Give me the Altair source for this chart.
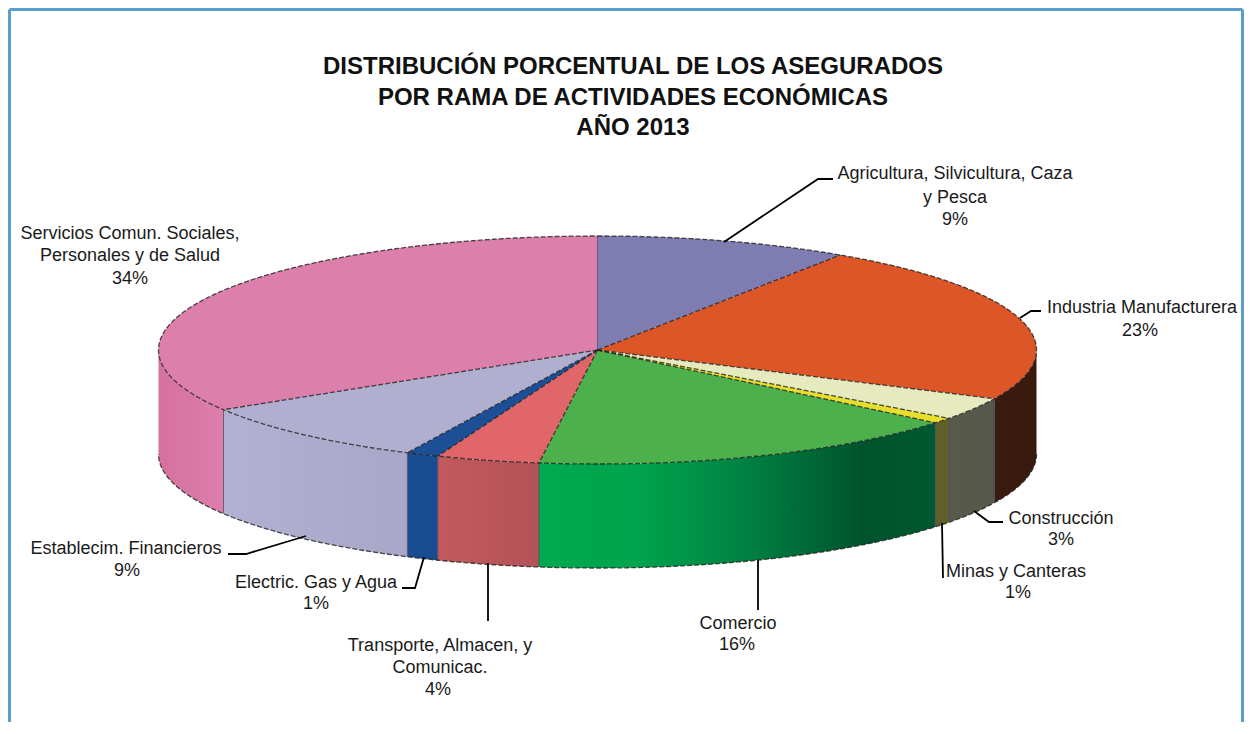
import math
import altair as alt

# --- data ---
categories = ["Agricultura", "Industria", "Construccion", "Minas", "Comercio",
              "Transporte", "Electric", "Establecim", "Servicios"]
shares = [9.33, 22.7, 3.2, 0.8, 16.1, 3.8, 1.2, 9.1, 33.77]
top_colors = ["#7e7cb0", "#dc5627", "#e6ebbf", "#e8df2c", "#4cb04c",
              "#e0666a", "#1d4f96", "#b0afd0", "#dd7fab"]
wall_stops = [
    ["#7e7cb0"],
    ["#3a1b10", "#38190e"],
    ["#585b4a", "#54574a"],
    ["#5f5f2a"],
    ["#00a94f", "#00a44d", "#008443", "#00532c", "#00592f"],
    ["#c25a5e", "#b35257"],
    ["#1a4c92"],
    ["#b2b1d2", "#a9a6c8"],
    ["#d5709e", "#dd7fab"],
]
label_text = ["Agricultura, Silvicultura, Caza", "y Pesca", "9%",
              "Industria Manufacturera", "23%",
              "Construcción", "3%",
              "Minas y Canteras", "1%",
              "Comercio", "16%",
              "Transporte, Almacen, y", "Comunicac.", "4%",
              "Electric. Gas y Agua", "1%",
              "Establecim. Financieros", "9%",
              "Servicios Comun. Sociales,", "Personales y de Salud", "34%"]
label_x = [955, 955, 955, 1142, 1140, 1061, 1061, 1016, 1018, 738, 737,
           440, 440, 438, 316, 316, 126, 127, 130, 130, 130]
label_y = [174, 198, 220, 308, 331, 519, 540, 572, 593, 624, 645,
           646, 668, 690, 583, 604, 549, 571, 234, 256, 279]
leaders = [
    [(724, 242), (818, 179), (833, 179)],
    [(1020, 318), (1031, 311), (1041, 311)],
    [(974, 511), (989, 522), (1003, 522)],
    [(942, 523), (943, 578)],
    [(758, 560), (758, 610)],
    [(488, 563), (488, 621)],
    [(424, 557), (415, 588), (402, 588)],
    [(306, 536), (246, 554), (228, 554)],
]
title_lines = ["DISTRIBUCIÓN PORCENTUAL DE LOS ASEGURADOS",
               "POR RAMA DE ACTIVIDADES ECONÓMICAS",
               "AÑO 2013"]

# --- pie geometry ---
CX, CY, A, B, DEPTH = 597.5, 350.0, 439.0, 114.0, 104.0
W, H = 1236, 714
FONT = "Liberation Sans"
xs = alt.Scale(domain=[8, 8 + W], range=[0, W], nice=False, zero=False)
ys = alt.Scale(domain=[8 + H, 8], range=[H, 0], nice=False, zero=False)
X = alt.X("x:Q", scale=xs, axis=None)
Y = alt.Y("y:Q", scale=ys, axis=None)
Y2 = alt.Y2("y2:Q")


def pt(share):
    t = share / 100 * 2 * math.pi
    return CX + A * math.sin(t), CY - B * math.cos(t)


def arc(s0, s1, step=0.1):
    n = max(2, int(math.ceil((s1 - s0) / step)) + 1)
    return [pt(s0 + (s1 - s0) * i / (n - 1)) for i in range(n)]


def envelope(poly):
    rows = []
    for x in sorted({round(p[0], 2) for p in poly}):
        hits = []
        m = len(poly)
        for i in range(m):
            (x0, y0), (x1, y1) = poly[i], poly[(i + 1) % m]
            lo, hi = min(x0, x1), max(x0, x1)
            if lo - 0.01 <= x <= hi + 0.01:
                if abs(x1 - x0) < 1e-6:
                    hits += [y0, y1]
                else:
                    hits.append(y0 + (y1 - y0) * (x - x0) / (x1 - x0))
        if hits:
            rows.append({"x": x, "y": min(hits), "y2": max(hits)})
    return rows


def paint(stops):
    if len(stops) == 1:
        return stops[0]
    n = len(stops) - 1
    pos = [0, 0.25, 0.5, 0.82, 1] if n == 4 else [i / n for i in range(n + 1)]
    return alt.Gradient(gradient="linear", x1=0, x2=1, y1=0, y2=0,
                        stops=[alt.GradientStop(color=c, offset=o) for c, o in zip(stops, pos)])


layers = []
cum = [0]
for s in shares:
    cum.append(cum[-1] + s)
cum[-1] = 100

# frame
frame = [{"x": 9.5, "y": 9.5, "x2": 9.5, "y2": 722},
         {"x": 9.5, "y": 9.5, "x2": 1242.5, "y2": 9.5},
         {"x": 1242.5, "y": 9.5, "x2": 1242.5, "y2": 722}]
layers.append(alt.Chart(alt.Data(values=frame)).mark_rule(color="#5a9fcc", strokeWidth=3).encode(
    x=X, y=Y, x2=alt.X2("x2:Q"), y2=Y2))

# walls (front half only)
for i, c in enumerate(categories):
    s0, s1 = max(cum[i], 25), min(cum[i + 1], 75)
    if s1 <= s0:
        continue
    rows = sorted(({"x": round(p[0], 2), "y": p[1], "y2": p[1] + DEPTH} for p in arc(s0, s1)),
                  key=lambda r: r["x"])
    layers.append(alt.Chart(alt.Data(values=rows)).mark_area(
        orient="vertical", color=paint(wall_stops[i])).encode(x=X, y=Y, y2=Y2))

# tops
for i, c in enumerate(categories):
    poly = [(CX, CY)] + arc(cum[i], cum[i + 1])
    layers.append(alt.Chart(alt.Data(values=envelope(poly))).mark_area(
        orient="vertical", color=top_colors[i]).encode(x=X, y=Y, y2=Y2))

# dashed outlines
edges = []
for p in arc(0, 100, 0.1):
    edges.append({"x": p[0], "y": p[1], "g": "rim"})
for p in arc(25, 75, 0.1):
    edges.append({"x": p[0], "y": p[1] + DEPTH, "g": "base"})
for k in range(1, len(cum) - 1):
    p = pt(cum[k])
    edges.append({"x": CX, "y": CY, "g": f"r{k}"})
    edges.append({"x": p[0], "y": p[1], "g": f"r{k}"})
layers.append(alt.Chart(alt.Data(values=edges)).mark_line(
    color="#222222", strokeWidth=1.3, strokeDash=[5, 2], opacity=0.8).encode(
    x=X, y=Y, detail="g:N", order=alt.Order("i:Q")).transform_window(i="row_number()"))

# solid edges
solid = [{"x": CX, "y": CY, "g": "noon"}, {"x": CX, "y": CY - B, "g": "noon"}]
for k in (8, 5, 6, 7, 3, 4, 2):
    p = pt(cum[k])
    solid += [{"x": p[0], "y": p[1], "g": f"w{k}"}, {"x": p[0], "y": p[1] + DEPTH, "g": f"w{k}"}]
layers.append(alt.Chart(alt.Data(values=solid)).mark_line(
    color="#4a3f66", strokeWidth=1, opacity=0.75).encode(x=X, y=Y, detail="g:N"))

# leader lines
lead_rows = []
for j, seg in enumerate(leaders):
    for n, (lx, ly) in enumerate(seg):
        lead_rows.append({"x": lx, "y": ly, "g": j, "n": n})
layers.append(alt.Chart(alt.Data(values=lead_rows)).mark_line(
    color="#000000", strokeWidth=1.8).encode(x=X, y=Y, detail="g:N", order="n:Q"))

# labels
rows = [{"x": a, "y": b, "t": t} for t, a, b in zip(label_text, label_x, label_y)]
layers.append(alt.Chart(alt.Data(values=rows)).mark_text(
    font=FONT, fontSize=18, color="#1a1a1a", align="center", baseline="middle").encode(
    x=X, y=Y, text="t:N"))

chart = alt.layer(*layers).properties(
    width=W, height=H,
    padding=0,
    autosize=alt.AutoSizeParams(type="none"),
    title=alt.TitleParams(text=title_lines, font=FONT, fontSize=24, fontWeight="bold",
                          color="#111111", lineHeight=30.5, anchor="middle",
                          dx=7, offset=-132, frame="group"),
).configure_view(stroke=None)

chart.save("out.html", embed_options={"renderer": "svg", "actions": False})
